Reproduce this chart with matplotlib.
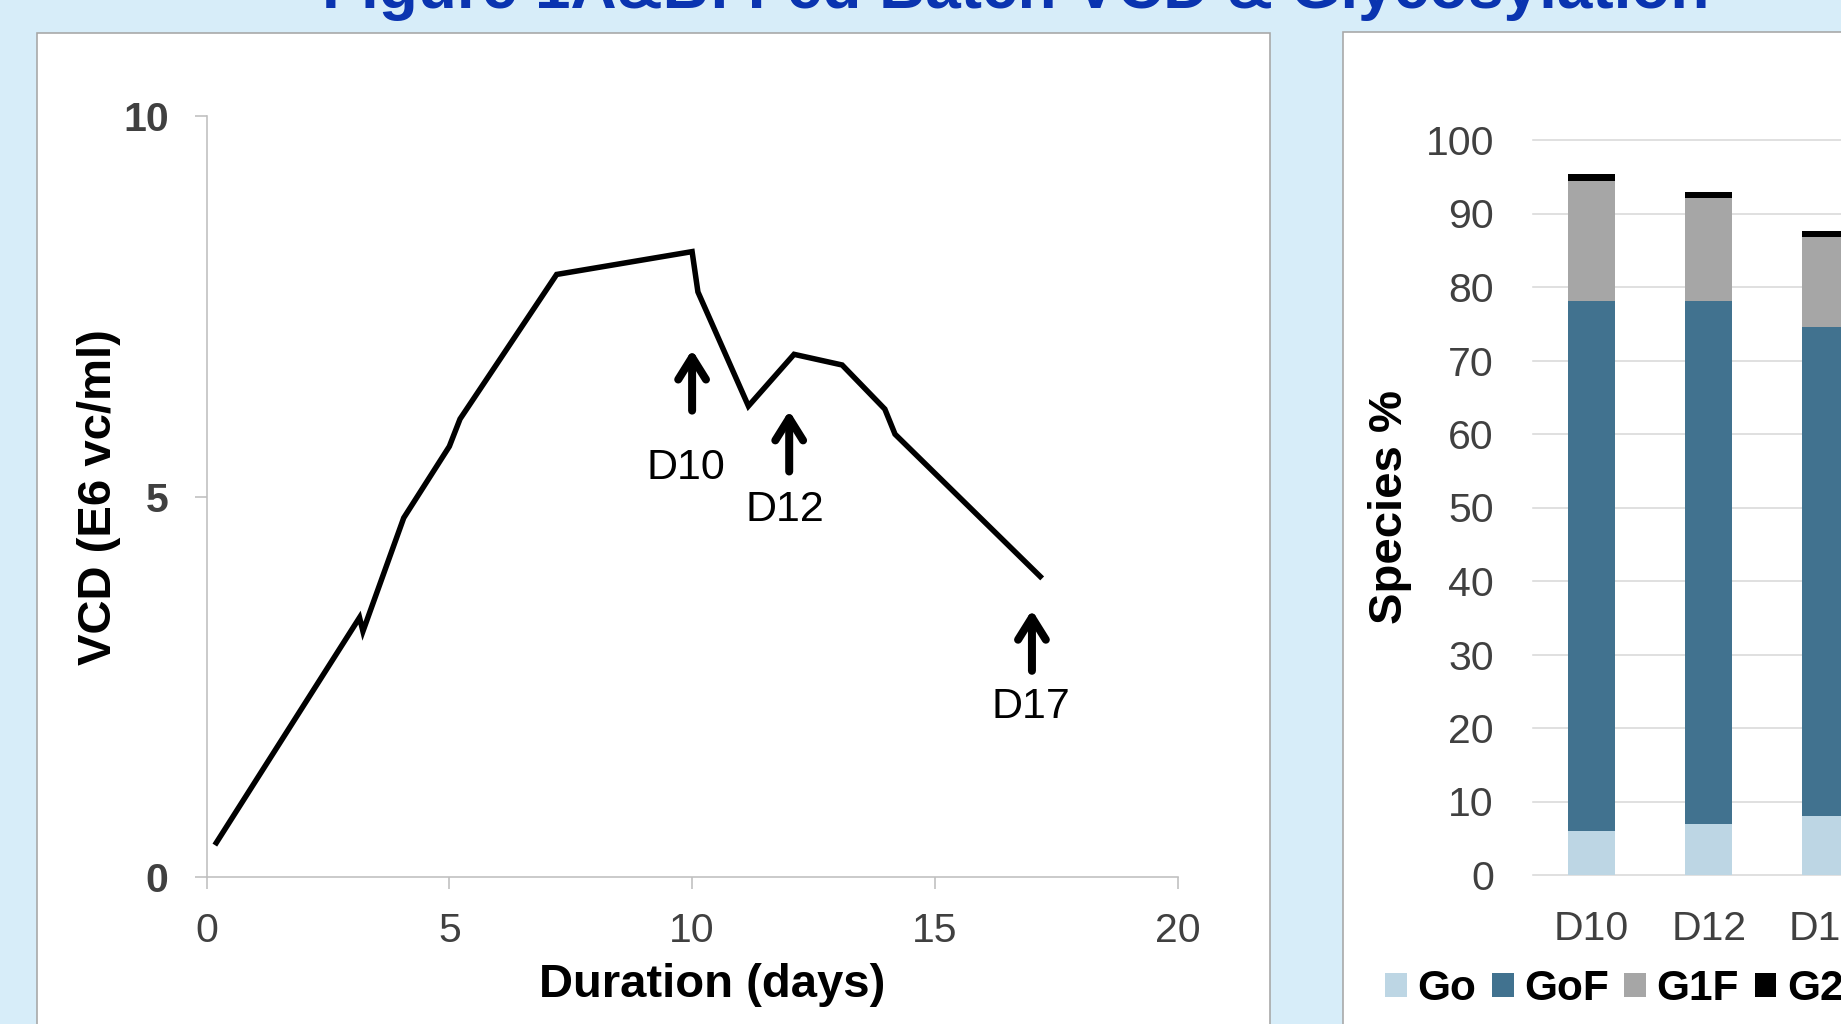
import matplotlib
matplotlib.use("Agg")
import matplotlib.pyplot as plt
from matplotlib.patches import Rectangle, Patch

# ---- data -------------------------------------------------------------
days = [0.2, 3.15, 3.22, 4.06, 5.0, 5.22, 6.09, 7.21, 10.0, 10.12,
        11.16, 12.1, 13.09, 13.97, 14.18, 17.17]
vcd = [0.45, 3.41, 3.23, 4.72, 5.66, 6.02, 6.85, 7.92, 8.22, 7.69,
       6.19, 6.87, 6.73, 6.15, 5.82, 3.95]

sample_days = [10, 12, 17]
sample_labels = ["D10", "D12", "D17"]

stages = ["D10", "D12", "D17"]
go = [6.0, 7.0, 8.0]
gof = [72.1, 71.1, 66.6]
g1f = [16.3, 14.0, 12.2]
g2f = [1.0, 0.8, 0.8]
species_names = ["Go", "GoF", "G1F", "G2F"]

x_ticks = [0, 5, 10, 15, 20]
y_ticks_vcd = [0, 5, 10]
y_ticks_pct = [0, 10, 20, 30, 40, 50, 60, 70, 80, 90, 100]

title = "Figure 1A&B: Fed Batch VCD & Glycosylation"

# ---- styling ----------------------------------------------------------
W, H, DPI = 1841, 1024, 100
PT = 72.0 / DPI  # points per pixel
BG = "#d7edf9"
TICK_GRAY = "#404040"
AXIS_GRAY = "#bfbfbf"
GRID_GRAY = "#d9d9d9"
BOX_EDGE = "#a6a6a6"
species_colors = ["#bdd6e4", "#41728f", "#a6a6a6", "#000000"]

plt.rcParams["font.family"] = ["Liberation Sans", "DejaVu Sans"]

fig = plt.figure(figsize=(W / DPI, H / DPI), dpi=DPI, facecolor=BG)


def fx(px):
    return px / W


def fy(py):
    return 1 - py / H


# white panels behind the two charts
fig.patches.append(Rectangle((fx(36.7), fy(1100)), fx(1270 - 36.7), (1100 - 33) / H,
                             transform=fig.transFigure, facecolor="white",
                             edgecolor=BOX_EDGE, lw=1.6 * PT, zorder=-5))
fig.patches.append(Rectangle((fx(1342.5), fy(1100)), fx(1950 - 1342.5), (1100 - 31.5) / H,
                             transform=fig.transFigure, facecolor="white",
                             edgecolor=BOX_EDGE, lw=1.6 * PT, zorder=-5))

fig.text(fx(1015.5), fy(8), title, ha="center", va="baseline",
         fontsize=46, fontweight="bold", color="#0a34b0")

# ---- VCD line chart ---------------------------------------------------
ax = fig.add_axes([fx(206.6), fy(877), fx(971), 760.8 / H])
ax.set_facecolor("none")
ax.plot(days, vcd, color="black", lw=5.5 * PT, solid_joinstyle="miter")
ax.set_xlim(0, 20)
ax.set_ylim(0, 10)
ax.set_xticks(x_ticks)
ax.set_yticks(y_ticks_vcd)
for s in ["top", "right"]:
    ax.spines[s].set_visible(False)
for s in ["left", "bottom"]:
    ax.spines[s].set_color(AXIS_GRAY)
    ax.spines[s].set_linewidth(1.6 * PT)
ax.tick_params(axis="both", direction="out", length=12 * PT, width=1.6 * PT,
               color=AXIS_GRAY, labelcolor=TICK_GRAY, labelsize=29.5)
ax.tick_params(axis="x", pad=23 * PT)
ax.tick_params(axis="y", pad=26 * PT)
for lab in ax.get_yticklabels():
    lab.set_fontweight("bold")

ax.set_xlabel("Duration (days)", fontsize=34, fontweight="bold", va="center")
ax.xaxis.set_label_coords(0.521, -0.1416)
ax.set_ylabel("VCD (E6 vc/ml)", fontsize=34, fontweight="bold", va="center")
ax.yaxis.set_label_coords(-0.1108, 0.4995)

# sampling markers: arrow tip, arrow length and label positions (data units)
arrow_tip_y = [6.93, 6.13, 3.51]
arrow_len = 0.8
label_xy = [(9.87, 5.38), (11.92, 4.83), (16.98, 2.24)]
for d, lab, tip, (lx, ly) in zip(sample_days, sample_labels, arrow_tip_y, label_xy):
    ax.annotate("", xy=(d, tip), xytext=(d, tip - arrow_len),
                arrowprops=dict(arrowstyle="->,head_length=0.8,head_width=0.5",
                                lw=8 * PT, color="black", shrinkA=0, shrinkB=0,
                                mutation_scale=20, capstyle="round", joinstyle="round"))
    ax.text(lx, ly, lab, ha="center", va="center", fontsize=31, color="black")

# ---- glycosylation stacked bars ---------------------------------------
step = 117.2  # pixels per category
ax2 = fig.add_axes([fx(1532.9), fy(875), fx(step * len(stages)), 735 / H])
ax2.set_facecolor("none")
xs = list(range(len(stages)))
bottom = [0.0] * len(stages)
for vals, col, name in zip([go, gof, g1f, g2f], species_colors, species_names):
    ax2.bar(xs, vals, width=0.4, bottom=bottom, color=col, label=name, zorder=2)
    bottom = [b + v for b, v in zip(bottom, vals)]
ax2.set_xlim(-0.5, len(stages) - 0.5)
ax2.set_ylim(0, 100)
ax2.set_yticks(y_ticks_pct)
ax2.set_xticks(xs)
ax2.set_xticklabels(stages)
for s in ax2.spines.values():
    s.set_visible(False)
ax2.yaxis.grid(True, color=GRID_GRAY, lw=1.6 * PT)
ax2.set_axisbelow(True)
for t in ax2.yaxis.get_major_ticks():
    t.gridline.set_clip_on(False)
ax2.tick_params(axis="both", length=0, labelcolor=TICK_GRAY, labelsize=29.5)
ax2.tick_params(axis="y", pad=39 * PT)
ax2.tick_params(axis="x", pad=35 * PT)
ax2.set_ylabel("Species %", fontsize=34, fontweight="bold", va="center")
ax2.yaxis.set_label_coords(-0.407, 0.5)

handles = [Patch(facecolor=c) for c in species_colors]
fig.legend(handles, species_names, loc="center left",
           bbox_to_anchor=(fx(1385), fy(989)), ncol=4, frameon=False,
           prop=dict(weight="bold", size=30.5), handlelength=0.515,
           handleheight=0.53, handletextpad=0.245, columnspacing=0.37,
           borderpad=0, borderaxespad=0)

fig.savefig("out.png", dpi=DPI, facecolor=BG)
